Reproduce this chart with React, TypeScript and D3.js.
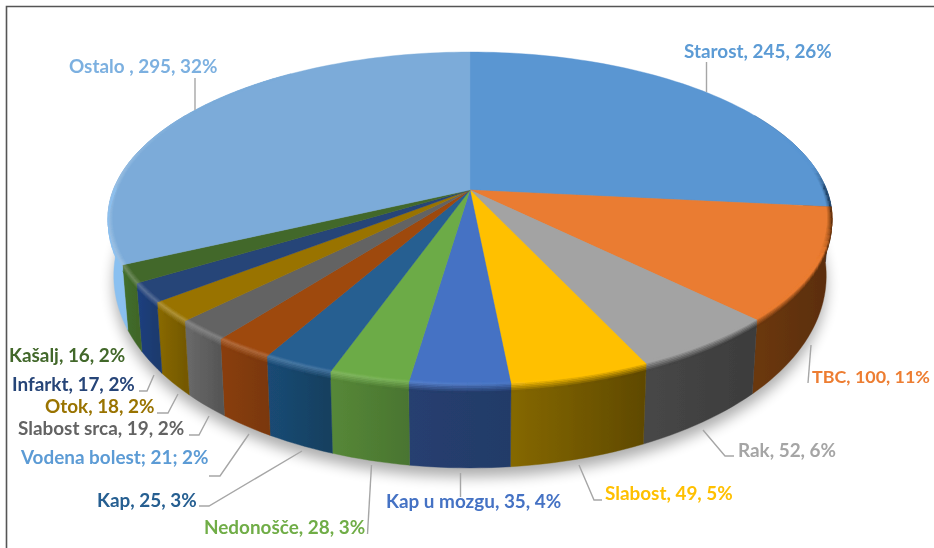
import React from "react";
import * as d3 from "d3";

const categories = ["Starost","TBC","Rak","Slabost","Kap u mozgu","Nedonošče","Kap","Vodena bolest","Slabost srca","Otok","Infarkt","Kašalj","Ostalo"];
const values = [245,100,52,49,35,28,25,21,19,18,17,16,295];
const labelTexts = ["Starost, 245, 26%","TBC, 100, 11%","Rak, 52, 6%","Slabost, 49, 5%","Kap u mozgu, 35, 4%","Nedonošče, 28, 3%","Kap, 25, 3%","Vodena bolest; 21; 2%","Slabost srca, 19, 2%","Otok, 18, 2%","Infarkt, 17, 2%","Kašalj, 16, 2%","Ostalo , 295, 32%"];
const topColors = ["#5A96D2","#EA7C31","#A3A3A3","#FFC000","#4472C4","#6CAB46","#255E91","#9E480E","#636363","#997300","#264478","#43682B","#7BABD9"];
const sideColors = [["#2f5f8f","#1f3f60"],["#6b380f","#5a2d0c"],["#474747","#3c3c3c"],["#856800","#5f4900"],["#263f70","#233b68"],["#568838","#4a7530"],["#1a4a75","#16405f"],["#8a3e0c","#7a380a"],["#6a6a6a","#565656"],["#8a6a00","#745900"],["#1f4080","#1d3a6e"],["#43702b","#3f6628"],["#8ac0f0","#6a9fd0"]];
const labelColors = ["#5B9BD5","#ED7D31","#A5A5A5","#FFC000","#4472C4","#70AD47","#255E91","#5B9BD5","#636363","#997300","#264478","#43682B","#7CB0E0"];
const labelSizes = [18.9,17.9,18.9,18.9,18.9,18.9,18.9,18.9,18.9,18.9,18.9,18.9,18.9];
// annotation layout: [text x, baseline y]
const labelPos = [[684,58],[812,383],[738,457],[605,500],[386,508],[204,534],[97,507],[21,464],[18,435],[45,413],[12,391],[9,362],[69,73]];
const leaders = [
  [[706.5,62],[706.5,92]],
  [[811,345],[808,383]],
  [[703,430],[725,456],[734,456]],
  [[579,465],[594,500],[602,500]],
  [[460.5,473],[460.5,497]],
  [[371.5,465],[367.5,534]],
  [[302,451],[209,506],[199,506]],
  [[249,434],[220,476],[209,476]],
  [[209,416],[199,435],[189,435]],
  [[178,394],[168,413],[157,413]],
  [[154,375],[147,391],[139,391]],
  [],
  [[195,78],[195,110]],
];

const W = 934, H = 548;
const cx = 470, cy = 190, A = 356.7, B = 161.6, t = 0.171;
const TAU = Math.PI * 2, DEG = Math.PI / 180;

const project = (a: number, rho = 1): [number, number] => {
  const u = rho * Math.sin(a), v = -rho * Math.cos(a), w = 1 - t * v;
  return [cx + (A * u) / w, cy + (B * v) / w];
};
// f = 0 on the top rim, f = 1 on the bottom rim
const wall = (a: number, f: number): [number, number] => {
  const [x, y] = project(a);
  const v = -Math.cos(a);
  return [cx + (x - cx) * (1 - 0.016 * f), y + f * (52 + 31 * v)];
};
const arcAngles = (a0: number, a1: number, step = 1.5 * DEG) => {
  const n = Math.max(2, Math.ceil((a1 - a0) / step));
  return d3.range(n + 1).map((i) => a0 + ((a1 - a0) * i) / n);
};
const line = d3.line<[number, number]>();
const clamp = (x: number) => Math.max(0, Math.min(1, x));

export default function App() {
  const arcs = d3.pie<number>().sort(null).value((d) => d).startAngle(0).endAngle(TAU)(values);
  const visA0 = 60 * DEG, visA1 = 300 * DEG;

  const bottomOutline = line(arcAngles(0, TAU).map((a) => wall(a, 1))) + "Z";

  const bevel: React.ReactNode[] = [];
  arcs.forEach((s, i) => {
    const a0 = Math.max(s.startAngle, 70 * DEG), a1 = Math.min(s.endAngle, 325 * DEG);
    if (a1 <= a0) return;
    const angs = arcAngles(a0, a1, 2 * DEG);
    const top = topColors[i];
    const x0 = project(a0)[0], x1 = project(a1)[0];
    const sideAt = d3.scaleLinear<string>().domain([Math.min(x0, x1), Math.max(x0, x1)]).range(sideColors[i]).clamp(true);
    for (let k = 0; k < angs.length - 1; k++) {
      const p = angs[k], q = angs[k + 1], m = (p + q) / 2;
      const u = Math.sin(m), v = -Math.cos(m);
      const hlW = 0.24 * clamp((0.3 - u) / 1.0) * clamp((v + 0.55) / 0.5);
      const hl = d3.interpolateRgb(top, "#ffffff")(hlW);
      const side = sideAt(project(m)[0]);
      const rimDark = clamp((u - 0.93) / 0.05) * clamp((v + 0.15) / 0.15) * 0.8;
      const outer = d3.interpolateRgb(hl, side)(rimDark);
      // radial strips on the top surface
      [0, 1, 2, 3].forEach((j) => {
        const r0 = 1 - 0.003 * (4 - j), r1 = 1 - 0.003 * (3 - j);
        const col = d3.interpolateRgb(top, outer)((j + 1) / 4);
        const d = line([project(p, r0), project(q, r0), project(q, r1), project(p, r1)]) + "Z";
        bevel.push(<path key={`r${i}-${k}-${j}`} d={d} fill={col} stroke={col} strokeWidth={0.4} />);
      });
      // rounded edge running down into the wall
      if (v > -0.05) {
        [0, 1, 2, 3, 4].forEach((j) => {
          const f0 = 0.02 * j, f1 = 0.02 * (j + 1);
          const col = d3.interpolateRgb(outer, side)((j + 1) / 5);
          const d = line([wall(p, f0), wall(q, f0), wall(q, f1), wall(p, f1)]) + "Z";
          bevel.push(<path key={`w${i}-${k}-${j}`} d={d} fill={col} stroke={col} strokeWidth={0.4} />);
        });
      }
    }
  });

  return (
    <svg width={W} height={H} viewBox={`0 0 ${W} ${H}`} style={{ position: "fixed", left: 0, top: 0, background: "#fff" }}>
      <defs>
        <filter id="shadow" x="-10%" y="-10%" width="120%" height="130%"><feGaussianBlur stdDeviation="7" /></filter>
        <filter id="soft" x="-2%" y="-2%" width="104%" height="104%"><feGaussianBlur stdDeviation="0.45" /></filter>
        {arcs.map((s, i) => {
          const a0 = Math.max(s.startAngle, visA0), a1 = Math.min(s.endAngle, visA1);
          const x0 = project(a0)[0], x1 = project(a1)[0];
          return (
            <linearGradient key={i} id={`side${i}`} gradientUnits="userSpaceOnUse" x1={Math.min(x0, x1)} x2={Math.max(x0, x1)} y1={0} y2={0}>
              <stop offset="0" stopColor={sideColors[i][0]} />
              <stop offset="1" stopColor={sideColors[i][1]} />
            </linearGradient>
          );
        })}
      </defs>
      <rect x={0} y={0} width={W} height={H} fill="#fff" />
      <path d={`M6.5 548V6.5H934`} fill="none" stroke="#555" strokeWidth={1.6} />
      <path d={bottomOutline} fill="#000" opacity={0.32} transform="translate(0,9)" filter="url(#shadow)" />
      <g filter="url(#soft)">
        {arcs.map((s, i) => {
          const a0 = Math.max(s.startAngle, visA0), a1 = Math.min(s.endAngle, visA1);
          if (a1 <= a0) return null;
          const angs = arcAngles(a0, a1);
          const pts = [...angs.map((a) => wall(a, 0)), ...angs.slice().reverse().map((a) => wall(a, 1))];
          return <path key={i} d={line(pts) + "Z"} fill={`url(#side${i})`} stroke={`url(#side${i})`} strokeWidth={0.4} />;
        })}
        {arcs.map((s, i) => {
          const pts = [project(0, 0), ...arcAngles(s.startAngle, s.endAngle).map((a) => project(a))];
          return <path key={i} d={line(pts) + "Z"} fill={topColors[i]} stroke={topColors[i]} strokeWidth={0.4} />;
        })}
        {bevel}
      </g>
      <g filter="url(#soft)">
        {leaders.map((l, i) =>
          l.length ? <path key={i} d={line(l as [number, number][]) as string} fill="none" stroke="#A6A6A6" strokeWidth={1.4} /> : null
        )}
        {categories.map((c, i) => (
          <text key={c} x={labelPos[i][0]} y={labelPos[i][1]} fill={labelColors[i]} fontFamily="Lato, 'Open Sans', sans-serif" fontWeight={700} fontSize={labelSizes[i]}>
            {labelTexts[i]}
          </text>
        ))}
      </g>
    </svg>
  );
}
